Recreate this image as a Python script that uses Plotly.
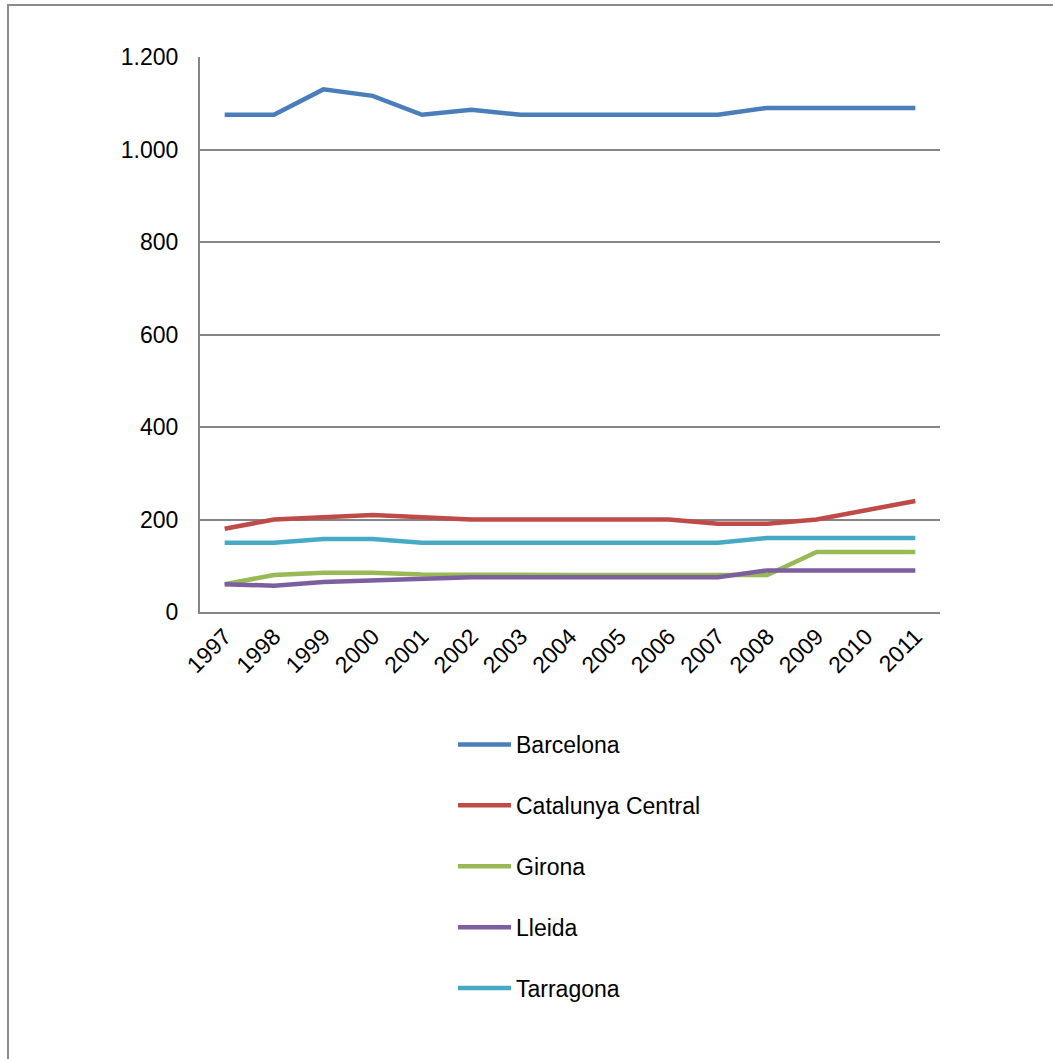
import plotly.graph_objects as go

years = [str(y) for y in range(1997, 2012)]
barcelona = [1075, 1075, 1130, 1116, 1075, 1086, 1075, 1075, 1075, 1075, 1075, 1090, 1090, 1090, 1090]
catalunya_central = [180, 200, 205, 210, 205, 200, 200, 200, 200, 200, 191, 191, 200, 220, 240]
girona = [60, 80, 85, 85, 81, 80, 80, 80, 80, 80, 80, 80, 130, 130, 130]
lleida = [60, 57, 65, 68, 70, 75, 75, 75, 75, 75, 75, 90, 90, 90, 90]
tarragona = [150, 150, 158, 158, 150, 150, 150, 150, 150, 150, 150, 160, 160, 160, 160]

series = [
    ("Barcelona", barcelona, "#4A7EBB"),
    ("Catalunya Central", catalunya_central, "#BE4B48"),
    ("Girona", girona, "#98B954"),
    ("Lleida", lleida, "#7D5FA0"),
    ("Tarragona", tarragona, "#46AAC5"),
]

fig = go.Figure()
for i, (name, vals, col) in enumerate(series):
    fig.add_trace(go.Scatter(
        x=years, y=vals, name=name, mode="lines",
        line=dict(color=col, width=4.5), legendgroup=f"g{i}",
    ))

W, H = 1053, 1059
L, R, T, B = 200, 940, 57, 612
fig.update_layout(
    width=W, height=H,
    margin=dict(l=L, r=W - R, t=T, b=H - B),
    paper_bgcolor="white", plot_bgcolor="white",
    separators=",.",
    font=dict(family="Liberation Sans, Arial", size=23, color="black"),
    showlegend=True,
    legend=dict(
        x=(453 - L) / (R - L), y=(B - 723) / (B - T),
        xanchor="left", yanchor="top",
        traceorder="grouped", tracegroupgap=28,
        font=dict(size=23), itemwidth=53,
    ),
    xaxis=dict(
        type="category", range=[-0.5, len(years) - 0.5],
        showgrid=False, showline=True,
        linecolor="#868686", linewidth=2, tickangle=-45,
        ticks="", tickfont=dict(size=23),
    ),
    yaxis=dict(
        range=[0, 1200], tickvals=[0, 200, 400, 600, 800, 1000, 1200],
        tickformat=",d", showgrid=True, gridcolor="#868686", gridwidth=1.5,
        showline=True, linecolor="#868686", linewidth=2, zeroline=False,
        ticks="", tickfont=dict(size=23), ticklabelstandoff=15,
    ),
    shapes=[dict(
        type="rect", xref="paper", yref="paper",
        x0=(8 - L) / (R - L), x1=(1070 - L) / (R - L),
        y0=(B - 1075) / (B - T), y1=(B - 5) / (B - T),
        line=dict(color="#8C8C8C", width=2), fillcolor="rgba(0,0,0,0)",
    )],
)

fig.write_html("out.html")
